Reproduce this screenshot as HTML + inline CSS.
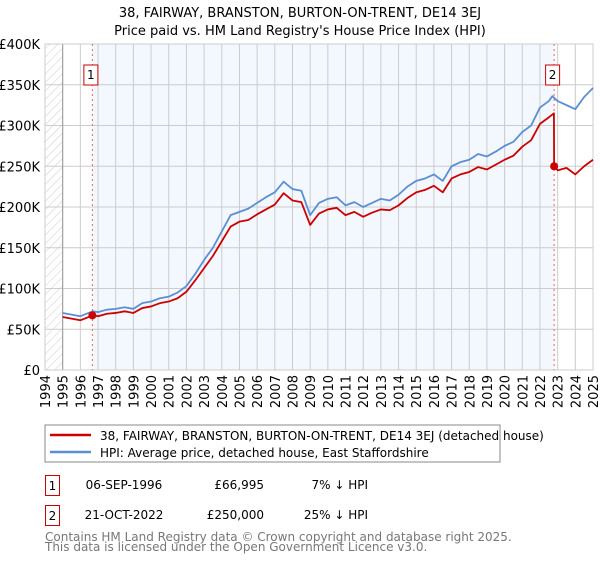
<!DOCTYPE html>
<html><head><meta charset="utf-8"><style>
body{margin:0;background:#fff;font-family:"Liberation Sans","DejaVu Sans",sans-serif;}
svg text{font-family:"DejaVu Sans","Liberation Sans",sans-serif;}
</style></head><body>
<svg id="chart" width="600" height="560" xmlns="http://www.w3.org/2000/svg">
<defs><pattern id="hatch" width="6" height="6" patternUnits="userSpaceOnUse" patternTransform="rotate(45)"><line x1="0" y1="0" x2="0" y2="6" stroke="#ccc" stroke-width="1"/></pattern></defs>
<text x="300" y="17" text-anchor="middle" font-size="13" fill="#000">38, FAIRWAY, BRANSTON, BURTON-ON-TRENT, DE14 3EJ</text>
<text x="300" y="35" text-anchor="middle" font-size="13" fill="#000">Price paid vs. HM Land Registry's House Price Index (HPI)</text>
<g id="plot"></g>
<rect x="45" y="425" width="455" height="37" fill="#fff" stroke="#888"/>
<line x1="50" y1="435" x2="91" y2="435" stroke="#cc0000" stroke-width="2.5"/>
<text x="100" y="440" font-size="12">38, FAIRWAY, BRANSTON, BURTON-ON-TRENT, DE14 3EJ (detached house)</text>
<line x1="50" y1="452" x2="91" y2="452" stroke="#5b8fd4" stroke-width="2.5"/>
<text x="100" y="457" font-size="12">HPI: Average price, detached house, East Staffordshire</text>
<g>
<rect x="45.5" y="475.5" width="14" height="20" fill="#fff" stroke="#cc0000"/>
<text x="52.5" y="490" font-size="12" text-anchor="middle">1</text>
<text x="124" y="489" font-size="12" text-anchor="middle">06-SEP-1996</text>
<text x="264" y="489" font-size="12" text-anchor="end">£66,995</text>
<text x="368" y="489" font-size="12" text-anchor="end">7% ↓ HPI</text></g>
<g>
<rect x="45.5" y="505.5" width="14" height="20" fill="#fff" stroke="#cc0000"/>
<text x="52.5" y="520" font-size="12" text-anchor="middle">2</text>
<text x="124" y="519" font-size="12" text-anchor="middle">21-OCT-2022</text>
<text x="264" y="519" font-size="12" text-anchor="end">£250,000</text>
<text x="368" y="519" font-size="12" text-anchor="end">25% ↓ HPI</text></g>
<text x="45" y="541" font-size="12" fill="#777">Contains HM Land Registry data © Crown copyright and database right 2025.</text>
<text x="45" y="551" font-size="12" fill="#777">This data is licensed under the Open Government Licence v3.0.</text>
</svg>
<script>
const hpiYears=[1995,1995.5,1996,1996.7,1997,1997.5,1998,1998.5,1999,1999.5,2000,2000.5,2001,2001.5,2002,2002.5,2003,2003.5,2004,2004.5,2005,2005.5,2006,2006.5,2007,2007.5,2008,2008.5,2009,2009.5,2010,2010.5,2011,2011.5,2012,2012.5,2013,2013.5,2014,2014.5,2015,2015.5,2016,2016.5,2017,2017.5,2018,2018.5,2019,2019.5,2020,2020.5,2021,2021.5,2022,2022.5,2022.7,2023,2023.5,2024,2024.5,2025];
const hpiValues=[70,68,66,72,71,74,75,77,75,82,84,88,90,95,103,118,135,150,170,190,194,198,205,212,218,231,222,220,190,205,210,212,202,206,200,205,210,208,215,225,232,235,240,232,250,255,258,265,262,268,275,280,292,300,322,330,336,330,325,320,335,346];
const redYears=[1995,1995.5,1996,1996.7,1997,1997.5,1998,1998.5,1999,1999.5,2000,2000.5,2001,2001.5,2002,2002.5,2003,2003.5,2004,2004.5,2005,2005.5,2006,2006.5,2007,2007.5,2008,2008.5,2009,2009.5,2010,2010.5,2011,2011.5,2012,2012.5,2013,2013.5,2014,2014.5,2015,2015.5,2016,2016.5,2017,2017.5,2018,2018.5,2019,2019.5,2020,2020.5,2021,2021.5,2022,2022.5,2022.79,2022.8,2023,2023.5,2024,2024.5,2025];
const redValues=[65,63,61,67,66,69,70,72,70,76,78,82,84,88,96,110,125,140,158,176,182,184,191,197,203,217,208,206,178,192,197,199,190,194,188,193,197,196,202,211,218,221,226,218,235,240,243,249,246,252,258,263,274,282,302,310,315,250,245,248,240,250,258];
const saleYears=[1996.68,2022.8];
const saleValues=[66.995,250];
const saleLabels=["1","2"];
const yTicks=[0,50,100,150,200,250,300,350,400];
const yTickLabels=["£0","£50K","£100K","£150K","£200K","£250K","£300K","£350K","£400K"];
const xTicks=[1994,1995,1996,1997,1998,1999,2000,2001,2002,2003,2004,2005,2006,2007,2008,2009,2010,2011,2012,2013,2014,2015,2016,2017,2018,2019,2020,2021,2022,2023,2024,2025];

const NS="http://www.w3.org/2000/svg";
const L=45,R=593,T=44,B=370;
const x=yr=>L+(yr-1994)/(2025-1994)*(R-L);
const y=v=>B-v/400*(B-T);
const g=document.getElementById('plot');
function mk(tag,attrs,parent){const e=document.createElementNS(NS,tag);for(const k in attrs)e.setAttribute(k,attrs[k]);(parent||g).appendChild(e);return e;}

const bg=mk('rect',{x:L,y:T,width:R-L,height:B-T,fill:'#fff'});


const hatch=mk('rect',{x:L,y:T,width:x(1995)-L,height:B-T,fill:'url(#hatch)'});


const band=mk('rect',{x:x(saleYears[0]),y:T,width:x(saleYears[1])-x(saleYears[0]),height:B-T,fill:'#f3f7fe'});



xTicks.forEach(t=>{
  const ln=mk('line',{x1:x(t),x2:x(t),y1:T,y2:B,stroke:'#ccc','stroke-width':1});
  
  
  const tx=mk('text',{x:0,y:0,'font-size':13,'text-anchor':'end',transform:`translate(${x(t)+5},375) rotate(-90)`});
  tx.textContent=t;
  
  
});
yTicks.forEach((t,i)=>{
  const ln=mk('line',{x1:L,x2:R,y1:y(t),y2:y(t),stroke:'#ccc','stroke-width':1});
  
  
  const tx=mk('text',{x:40,y:y(t)+5,'font-size':13,'text-anchor':'end'});
  tx.textContent=yTickLabels[i];
  
  
});
const yax=mk('line',{x1:x(1995),x2:x(1995),y1:T,y2:B,stroke:'#999','stroke-width':1});


const frame=mk('rect',{x:L,y:T,width:R-L,height:B-T,fill:'none',stroke:'#ccc'});



saleYears.forEach((s,i)=>{
  const vl=mk('line',{x1:x(s),x2:x(s),y1:T,y2:B,stroke:'#f06060','stroke-width':1,'stroke-dasharray':'2,3'});
  
  
});

const hp=mk('polyline',{points:hpiYears.map((t,i)=>x(t)+','+y(hpiValues[i])).join(' '),fill:'none',stroke:'#5b8fd4','stroke-width':1.8,'stroke-linejoin':'round'});


const rp=mk('polyline',{points:redYears.map((t,i)=>x(t)+','+y(redValues[i])).join(' '),fill:'none',stroke:'#cc0000','stroke-width':1.8,'stroke-linejoin':'round'});



saleYears.forEach((s,i)=>{
  const c=mk('circle',{cx:x(s),cy:y(saleValues[i]),r:4,fill:'#cc0000'});
  
  
  const bx=mk('rect',{x:x(s)-8.5,y:65,width:14,height:20,fill:'#fff',stroke:'#cc0000'});
  
  
  const tx=mk('text',{x:x(s)-1.5,y:79,'font-size':12,'text-anchor':'middle'});
  tx.textContent=saleLabels[i];
  
  
});
</script>
</body></html>
